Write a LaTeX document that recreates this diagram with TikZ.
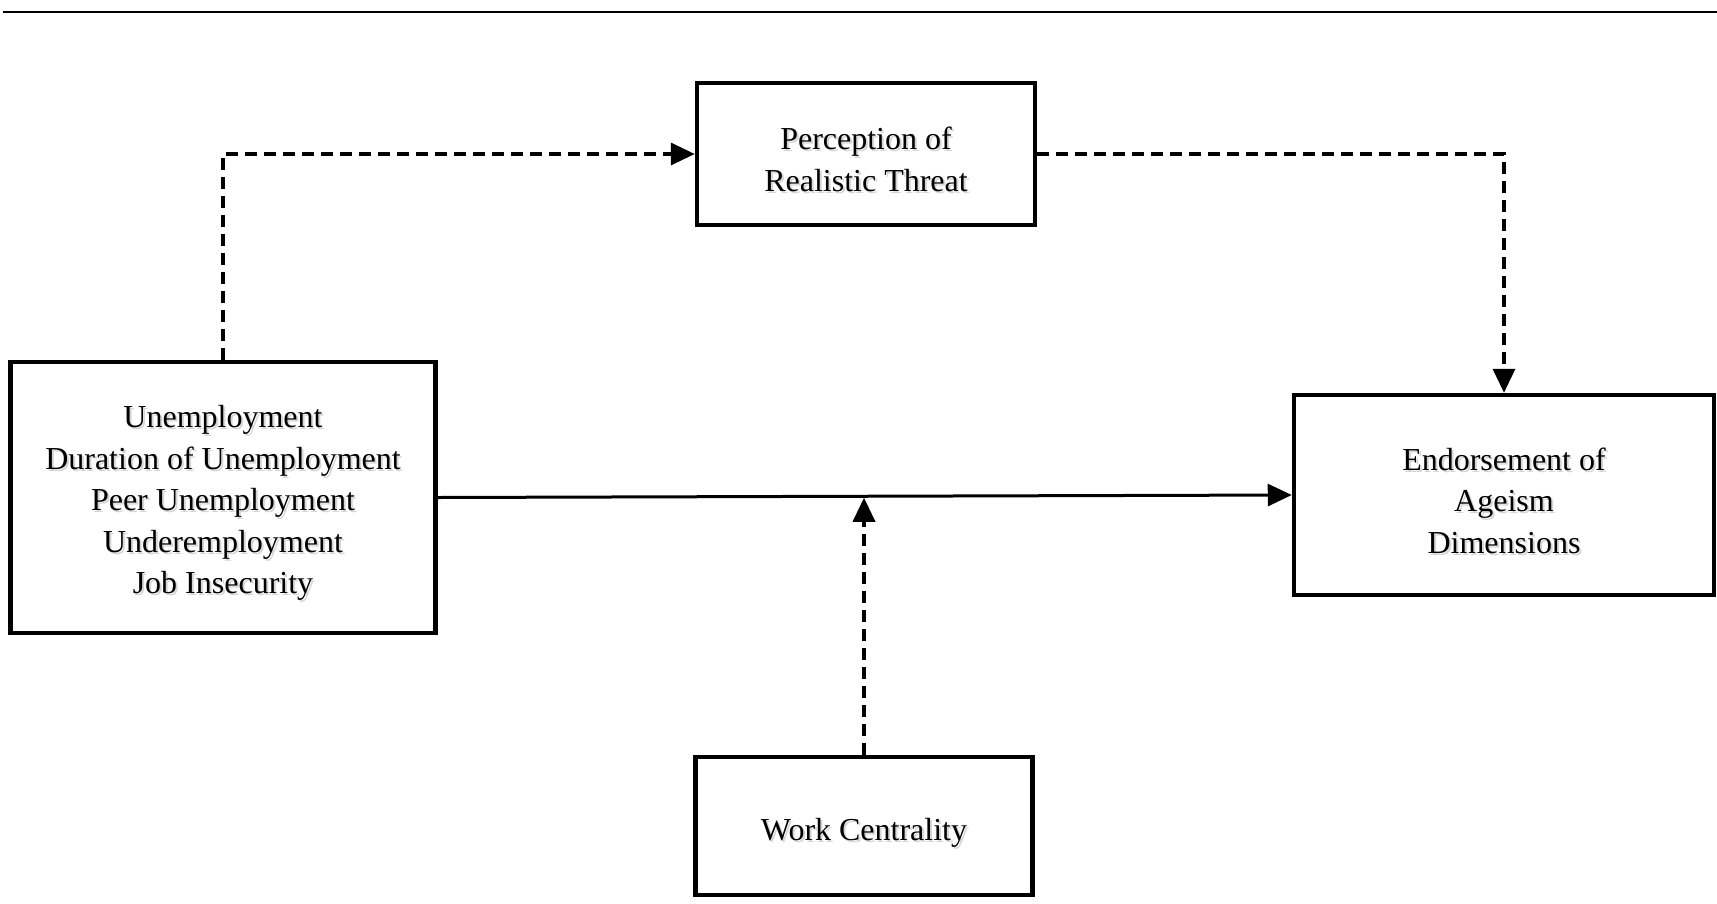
\documentclass[tikz,border=0pt]{standalone}
\usepackage{fontspec}
\setmainfont{Liberation Serif}
\usetikzlibrary{arrows.meta,calc}
\begin{document}
\begin{tikzpicture}[x=1pt,y=-1pt,
  box/.style={draw, line width=4.5pt, rectangle, inner sep=0pt},
  txt/.style={align=center, inner sep=0pt, font=\fontsize{32}{41.5}\selectfont},
  txtshadow/.style={txt, text=black!16},
  dasharrow/.style={line width=3.5pt, dash pattern=on 12pt off 7pt,
    -{Triangle[length=24pt,width=22pt]}},
  solidarrow/.style={line width=3pt, -{Triangle[length=24pt,width=22pt]}},
  toprule/.style={line width=2.5pt}]
\useasboundingbox (0,0) rectangle (1717,903);
\coordinate (ruleL) at (3,12);
\coordinate (ruleR) at (1717,12);
\draw[toprule] (ruleL) -- (ruleR);
% boxes
\node[box, minimum width=338pt, minimum height=142pt] (threat) at (866,154) {};
\node[box, minimum width=425pt, minimum height=271pt] (pred) at (223,497.5) {};
\node[box, minimum width=420pt, minimum height=200pt] (ageism) at (1504,495) {};
\node[box, minimum width=337pt, minimum height=138pt] (work) at (864,826) {};
% texts (with soft shadow)
\node[txtshadow] (threatS) at ([shift={(2,7.5)}]threat.center) {Perception of\\Realistic Threat};
\node[txt] (threatT) at ([shift={(0,5.5)}]threat.center) {Perception of\\Realistic Threat};
\node[txtshadow] (predS) at ([shift={(2,7.5)}]pred.center)
  {Unemployment\\Duration of Unemployment\\Peer Unemployment\\Underemployment\\Job Insecurity};
\node[txt] (predT) at ([shift={(0,5.5)}]pred.center)
  {Unemployment\\Duration of Unemployment\\Peer Unemployment\\Underemployment\\Job Insecurity};
\node[txtshadow] (ageismS) at ([shift={(2,7.5)}]ageism.center) {Endorsement of\\Ageism\\Dimensions};
\node[txt] (ageismT) at ([shift={(0,5.5)}]ageism.center) {Endorsement of\\Ageism\\Dimensions};
\node[txtshadow] (workS) at ([shift={(2,8.5)}]work.center) {Work Centrality};
\node[txt] (workT) at ([shift={(0,6.5)}]work.center) {Work Centrality};
% connectors
\draw[dasharrow] (pred.north) |- (threat.west);
\draw[dasharrow] (threat.east) -| (ageism.north);
\draw[solidarrow] (pred.east) -- (ageism.west);
\coordinate (meet) at ($(pred.east)!0.5!(ageism.west)$);
\coordinate (tip) at (work.north |- meet);
\draw[dasharrow, shorten >=1.5pt] (work.north) -- (tip);
\end{tikzpicture}
\end{document}
